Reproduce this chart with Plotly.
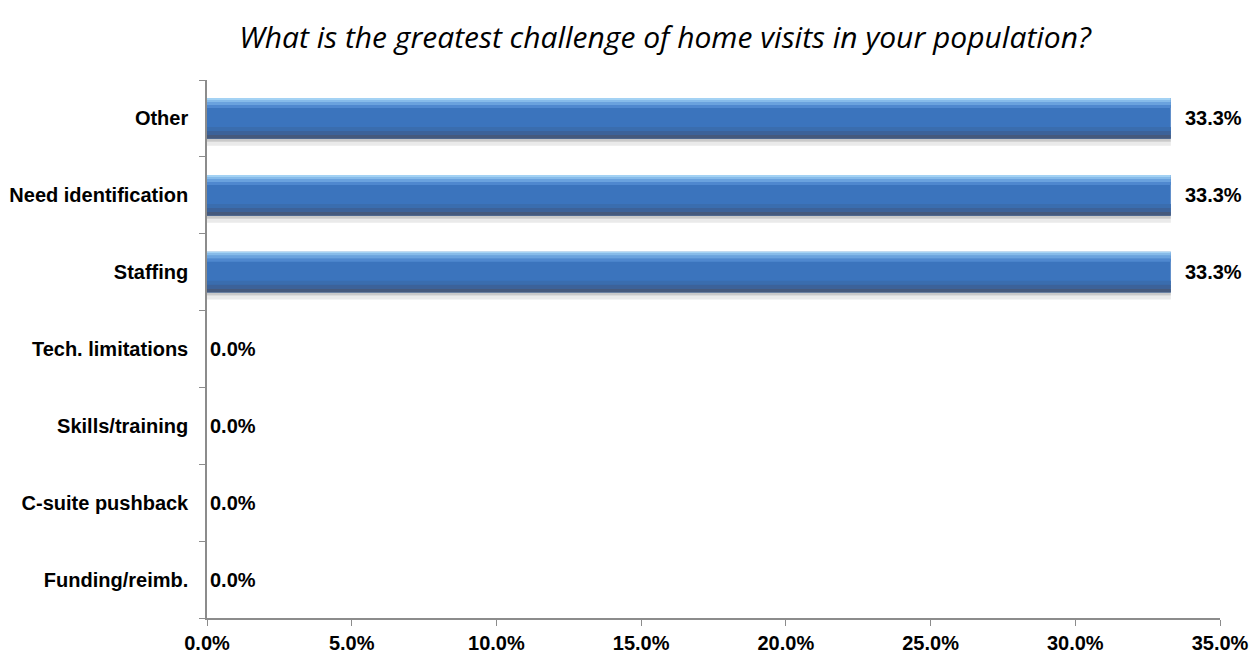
import plotly.graph_objects as go

categories = ["Funding/reimb.", "C-suite pushback", "Skills/training",
              "Tech. limitations", "Staffing", "Need identification", "Other"]
values = [0.0, 0.0, 0.0, 0.0, 33.3, 33.3, 33.3]
x_ticks = [0, 5, 10, 15, 20, 25, 30, 35]
x_ticklabels = [f"{t:.1f}%" for t in x_ticks]
title = "What is the greatest challenge of home visits in your population?"

# value labels (extra space before non-zero labels to clear the bar bevel/shadow)
labels = [("\u00a0\u00a0" if v > 0 else "") + f"{v:.1f}%" for v in values]

font_bold = "Liberation Sans, Arial, sans-serif"
FS = 20

# bar geometry / gradient styling
BAR_W = 0.53
UNIT_PX = (618 - 80) / 7.0
BAR_PX = BAR_W * UNIT_PX
# (top px, bottom px, color) measured from the bar's top edge
bands = [
    (BAR_PX, BAR_PX + 3, "rgba(120,120,120,0.40)"),
    (BAR_PX + 3, BAR_PX + 7, "rgba(170,170,170,0.25)"),
    (0, 2, "#a3d2f4"),
    (2, 4, "#86bbea"),
    (4, 7, "#6aa2de"),
    (7, 10, "#4f88cf"),
    (29, 33, "#3a6dae"),
    (33, 37, "#3c6299"),
    (37, BAR_PX, "#45597c"),
]

fig = go.Figure()
fig.add_trace(go.Bar(
    y=categories, x=values, orientation="h", width=BAR_W,
    marker=dict(color="#3b74bd", line=dict(width=0)),
    text=labels, textposition="outside", cliponaxis=False,
    textfont=dict(family=font_bold, size=FS, color="#000000", weight="bold"),
    hoverinfo="skip", showlegend=False,
))
for top, bot, col in bands:
    fig.add_trace(go.Bar(
        y=categories, x=values, orientation="h",
        width=(bot - top) / UNIT_PX,
        offset=BAR_W / 2 - bot / UNIT_PX,
        marker=dict(color=col, line=dict(width=0)),
        hoverinfo="skip", showlegend=False,
    ))

fig.update_layout(
    barmode="overlay",
    width=1259, height=665,
    margin=dict(l=207, r=39, t=80, b=47, autoexpand=False),
    paper_bgcolor="white", plot_bgcolor="white",
    title=dict(text=title, x=665 / 1259, xanchor="center", y=1 - 37 / 665, yanchor="middle",
               font=dict(family="Open Sans, Calibri, sans-serif", size=30,
                         color="#000000", style="italic")),
    xaxis=dict(range=[0, 35], tickvals=x_ticks, ticktext=x_ticklabels,
               showgrid=False, zeroline=False, showline=True,
               linecolor="#8c8c8c", linewidth=1.5, automargin=False,
               ticks="outside", ticklen=6, tickcolor="#8c8c8c",
               ticklabelstandoff=0,
               tickfont=dict(family=font_bold, size=FS, color="#000000", weight="bold"),
               fixedrange=True),
    yaxis=dict(categoryorder="array", categoryarray=categories,
               showgrid=False, zeroline=False, showline=True,
               linecolor="#8c8c8c", linewidth=1.5, automargin=False,
               ticks="outside", ticklen=6, tickcolor="#8c8c8c",
               tickson="boundaries", ticklabelstandoff=13,
               tickfont=dict(family=font_bold, size=FS, color="#000000", weight="bold"),
               fixedrange=True),
)

fig.write_html("out.html")
